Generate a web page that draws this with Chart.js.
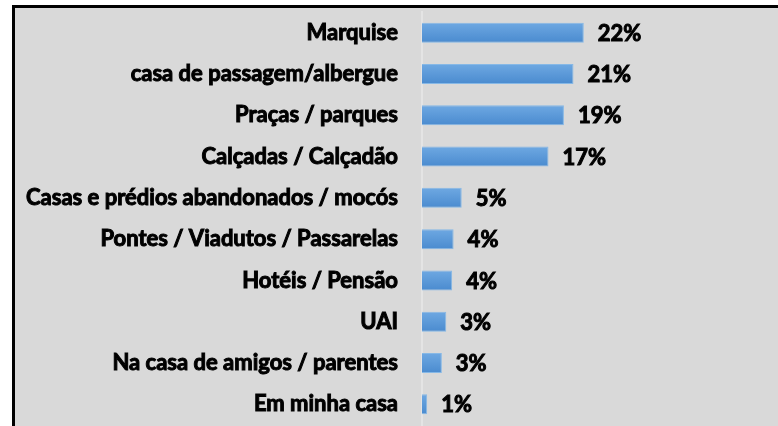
<!DOCTYPE html>
<html>
<head>
<meta charset="utf-8">
<script src="https://cdn.jsdelivr.net/npm/chart.js@4"></script>
<style>
  html, body { margin: 0; padding: 0; background: #fff; }
  #frame {
    position: absolute; left: 12px; top: 5px;
    width: 763px; height: 418px;
    border-top: 3px solid #000; border-left: 3px solid #000;
    background: #d9d9d9;
  }
  #chart { display: block; }
</style>
</head>
<body>
<div id="frame"><canvas id="chart" width="763" height="418"></canvas></div>
<script>
// Local para dormir - percentages
const categories = [
    'Marquise',
    'casa de passagem/albergue',
    'Praças / parques',
    'Calçadas / Calçadão',
    'Casas e prédios abandonados / mocós',
    'Pontes / Viadutos / Passarelas',
    'Hotéis / Pensão',
    'UAI',
    'Na casa de amigos / parentes',
    'Em minha casa'
];
const values = [22.0, 20.6, 19.3, 17.2, 5.4, 4.3, 4.1, 3.3, 2.7, 0.7];
const valueLabels = ['22%', '21%', '19%', '17%', '5%', '4%', '4%', '3%', '3%', '1%'];

const FONT = 'Lato, "Liberation Sans", sans-serif';

// draw the % text next to each bar
const barLabels = {
    id: 'barLabels',
    afterDatasetsDraw(chart) {
        const ctx = chart.ctx;
        const meta = chart.getDatasetMeta(0);
        ctx.save();
        ctx.font = 'bold 22px ' + FONT;
        ctx.fillStyle = '#000';
        ctx.strokeStyle = '#000';
        ctx.lineWidth = 1;
        ctx.textBaseline = 'middle';
        ctx.textAlign = 'left';
        meta.data.forEach((bar, i) => {
            ctx.strokeText(valueLabels[i], bar.x + 14, bar.y + 1);
            ctx.fillText(valueLabels[i], bar.x + 14, bar.y + 1);
        });
        ctx.restore();
    }
};

// vertical shading on each bar, like the original
function barFill(context) {
    const scale = context.chart.scales.y;
    const y = scale ? scale.getPixelForValue(context.dataIndex) : NaN;
    if (!isFinite(y)) return '#5b9bd5';
    const g = context.chart.ctx.createLinearGradient(0, y - 10, 0, y + 10);
    g.addColorStop(0, '#6ea8e2');
    g.addColorStop(1, '#4a8bcf');
    return g;
}

new Chart(document.getElementById('chart').getContext('2d'), {
    type: 'bar',
    data: {
        labels: categories,
        datasets: [{
            data: values,
            backgroundColor: barFill,
            borderColor: '#86b8e6',
            borderWidth: 1,
            barPercentage: 0.485,
            categoryPercentage: 1
        }]
    },
    options: {
        indexAxis: 'y',
        responsive: false,
        animation: false,
        layout: { padding: { top: 4, bottom: 1, left: 0, right: 3 } },
        plugins: {
            legend: { display: false },
            tooltip: { enabled: false }
        },
        scales: {
            x: {
                display: false,
                min: 0,
                max: 48
            },
            y: {
                afterFit(scale) {
                    scale.width = 407;
                    scale.paddingTop = 0;
                    scale.paddingBottom = 0;
                },
                grid: { display: false, drawTicks: false },
                border: { display: true, color: '#e4e4e4', width: 2 },
                ticks: {
                    padding: 24,
                    color: '#000',
                    textStrokeColor: '#000',
                    textStrokeWidth: 1,
                    font: { family: FONT, size: 22, weight: 'bold' }
                }
            }
        }
    },
    plugins: [barLabels]
});
</script>
</body>
</html>
